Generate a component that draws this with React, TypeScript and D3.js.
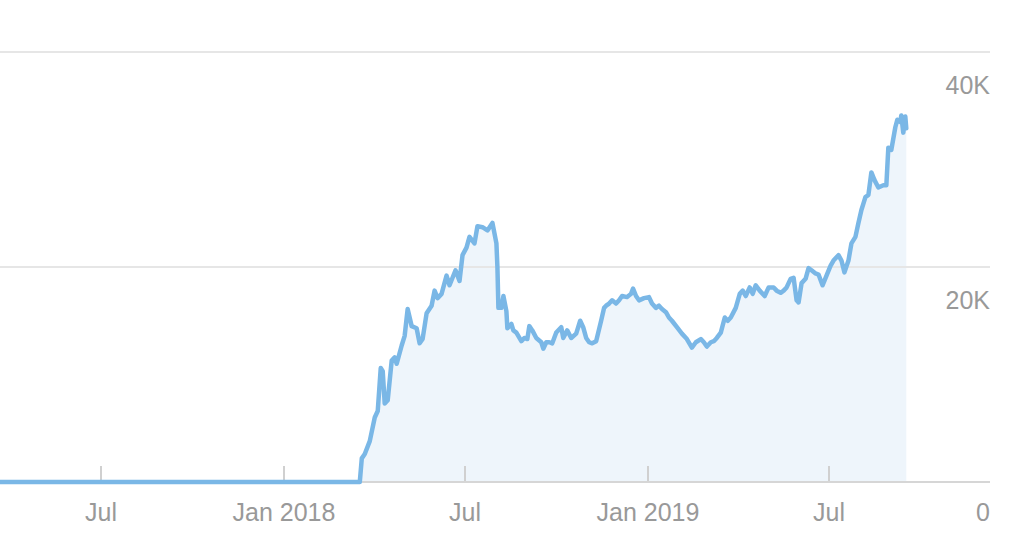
import React from "react";
import * as d3 from "d3";

const dates: string[] = [
  "2017-03-23", "2018-03-18", "2018-03-20", "2018-03-23", "2018-03-28", "2018-04-02", "2018-04-05",
  "2018-04-08", "2018-04-10", "2018-04-12", "2018-04-15", "2018-04-19", "2018-04-22", "2018-04-24",
  "2018-04-29", "2018-05-02", "2018-05-05", "2018-05-09", "2018-05-14", "2018-05-17", "2018-05-20",
  "2018-05-24", "2018-05-29", "2018-06-01", "2018-06-04", "2018-06-08", "2018-06-13", "2018-06-16",
  "2018-06-19", "2018-06-22", "2018-06-26", "2018-06-29", "2018-07-03", "2018-07-06", "2018-07-11",
  "2018-07-14", "2018-07-19", "2018-07-24", "2018-07-29", "2018-08-02", "2018-08-03", "2018-08-04",
  "2018-08-07", "2018-08-09", "2018-08-12", "2018-08-13", "2018-08-17", "2018-08-19", "2018-08-22",
  "2018-08-27", "2018-08-30", "2018-09-02", "2018-09-04", "2018-09-07", "2018-09-11", "2018-09-16",
  "2018-09-18", "2018-09-21", "2018-09-24", "2018-09-27", "2018-10-01", "2018-10-06", "2018-10-08",
  "2018-10-12", "2018-10-16", "2018-10-21", "2018-10-25", "2018-10-28", "2018-10-31", "2018-11-03",
  "2018-11-06", "2018-11-10", "2018-11-15", "2018-11-18", "2018-11-20", "2018-11-23", "2018-11-26",
  "2018-11-30", "2018-12-03", "2018-12-06", "2018-12-11", "2018-12-15", "2018-12-17", "2018-12-20",
  "2018-12-23", "2018-12-28", "2019-01-02", "2019-01-05", "2019-01-09", "2019-01-12", "2019-01-15",
  "2019-01-19", "2019-01-22", "2019-01-25", "2019-01-30", "2019-02-04", "2019-02-09", "2019-02-14",
  "2019-02-18", "2019-02-23", "2019-02-26", "2019-03-01", "2019-03-05", "2019-03-08", "2019-03-11",
  "2019-03-15", "2019-03-19", "2019-03-22", "2019-03-25", "2019-03-30", "2019-04-03", "2019-04-06",
  "2019-04-09", "2019-04-13", "2019-04-16", "2019-04-19", "2019-04-23", "2019-04-28", "2019-05-02",
  "2019-05-07", "2019-05-10", "2019-05-14", "2019-05-17", "2019-05-20", "2019-05-24", "2019-05-27",
  "2019-05-30", "2019-06-01", "2019-06-04", "2019-06-08", "2019-06-11", "2019-06-14", "2019-06-18",
  "2019-06-21", "2019-06-25", "2019-06-29", "2019-07-03", "2019-07-06", "2019-07-11", "2019-07-14",
  "2019-07-17", "2019-07-21", "2019-07-24", "2019-07-28", "2019-07-31", "2019-08-03", "2019-08-05",
  "2019-08-07", "2019-08-10", "2019-08-13", "2019-08-16", "2019-08-20", "2019-08-25", "2019-08-28",
  "2019-08-30", "2019-09-02", "2019-09-06", "2019-09-08", "2019-09-11", "2019-09-12", "2019-09-14",
  "2019-09-16", "2019-09-17",
];

const values: number[] = [
  0, 0, 2200, 2600, 3800, 6000, 6600,
  10600, 10300, 7300, 7600, 11300, 11600, 11000,
  12700, 13600, 16100, 14500, 14300, 12900, 13300,
  15700, 16400, 17800, 17100, 17500, 19200, 18300,
  19000, 19700, 18700, 21100, 21800, 22800, 22200,
  23800, 23700, 23400, 24100, 22200, 20000, 16200,
  16200, 17300, 15900, 14300, 14700, 14100, 13900,
  13100, 13400, 13300, 14500, 14100, 13400, 13000,
  12400, 13000, 13000, 12900, 13900, 14400, 13400,
  14100, 13400, 13800, 15000, 14400, 13400, 13000,
  12900, 13100, 15000, 16200, 16400, 16600, 16900,
  16600, 16900, 17300, 17200, 17500, 18000, 17300,
  16900, 17100, 17200, 16600, 16200, 16400, 16100,
  15800, 15300, 15000, 14400, 13800, 13300, 12500,
  13000, 13300, 13000, 12600, 13000, 13100, 13400,
  13900, 15300, 15000, 15300, 16200, 17500, 17800,
  17300, 18100, 17500, 18300, 17800, 17300, 18100,
  18100, 17800, 17600, 17800, 18100, 18900, 19000,
  16900, 16700, 18500, 18900, 19900, 19700, 19400,
  19300, 18300, 19200, 20100, 20600, 21100, 20600,
  19500, 20600, 22200, 22800, 24100, 25300, 25900,
  26500, 26700, 28800, 28100, 27400, 27600, 27600,
  31100, 30900, 33000, 33700, 33500, 34100, 32500,
  34000, 32900,
];

const xTickDates: string[] = ["2017-07-01", "2018-01-01", "2018-07-01", "2019-01-01", "2019-07-01"];
const xTickLabels: string[] = ["Jul", "Jan 2018", "Jul", "Jan 2019", "Jul"];
const yTicks: number[] = [0, 20000, 40000];
const yTickLabels: string[] = ["0", "20K", "40K"];

const W = 1024;
const H = 557;
const FONT = "'Liberation Sans', Arial, Helvetica, sans-serif";

export default function App() {
  const parse = d3.timeParse("%Y-%m-%d");
  const data = dates.map((d, i) => ({ date: parse(d) as Date, value: values[i] }));

  const x = d3
    .scaleTime()
    .domain([new Date(2018, 0, 1), new Date(2019, 0, 1)])
    .range([284, 648]);
  const y = d3.scaleLinear().domain([0, 40000]).range([482, 52]);

  const line = d3
    .line<{ date: Date; value: number }>()
    .x((d) => x(d.date))
    .y((d) => y(d.value))
    .curve(d3.curveLinear);
  const area = d3
    .area<{ date: Date; value: number }>()
    .x((d) => x(d.date))
    .y0(y(0))
    .y1((d) => y(d.value))
    .curve(d3.curveLinear);

  const gridX0 = 0;
  const gridX1 = 990;

  return (
    <svg
      width={W}
      height={H}
      style={{ position: "absolute", left: 0, top: 0, display: "block", background: "#fff" }}
    >
      <path d={area(data) || ""} fill="#eef5fb" />
      {yTicks.map((t) => (
        <line
          key={"g" + t}
          x1={gridX0}
          x2={gridX1}
          y1={y(t)}
          y2={y(t)}
          stroke={t === 0 ? "#d6d6d6" : "#e6e6e6"}
          strokeWidth={2}
        />
      ))}
      {xTickDates.map((d, i) => {
        const xx = Math.round(x(parse(d) as Date));
        return (
          <g key={"xt" + i}>
            <line x1={xx} x2={xx} y1={466} y2={481} stroke="#d0d0d0" strokeWidth={2} />
            <text
              x={xx}
              y={521}
              textAnchor="middle"
              fontFamily={FONT}
              fontSize={25}
              fill="#999"
            >
              {xTickLabels[i]}
            </text>
          </g>
        );
      })}
      <path
        d={line(data) || ""}
        fill="none"
        stroke="#7ab7e6"
        strokeWidth={4.5}
        strokeLinejoin="round"
        strokeLinecap="round"
      />
      {yTicks.map((t, i) => (
        <text
          key={"yl" + t}
          x={990}
          y={y(t) + (t === 0 ? 39 : 42)}
          textAnchor="end"
          fontFamily={FONT}
          fontSize={25}
          fill="#999"
        >
          {yTickLabels[i]}
        </text>
      ))}
    </svg>
  );
}
